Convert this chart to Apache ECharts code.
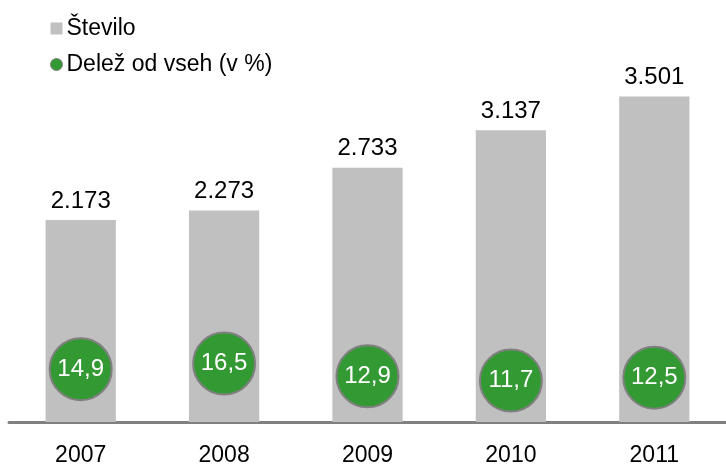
<!DOCTYPE html>
<html>
<head>
<meta charset="utf-8">
<script src="https://cdn.jsdelivr.net/npm/echarts@6/dist/echarts.min.js"></script>
<style>
  html, body { margin: 0; padding: 0; background: #fff; }
  #chart { width: 726px; height: 467px; }
</style>
</head>
<body>
<div id="chart"></div>
<script>
const years = ["2007", "2008", "2009", "2010", "2011"];
const stevilo = [2173, 2273, 2733, 3137, 3501];
const delez = [14.9, 16.5, 12.9, 11.7, 12.5];

const fmtThousands = (v) => String(v).replace(/\B(?=(\d{3})+(?!\d))/g, ".");
const fmtDecimal = (v) => v.toFixed(1).replace(".", ",");

const chart = echarts.init(document.getElementById("chart"));
chart.setOption({
    animation: false,
    textStyle: { fontFamily: "Liberation Sans, Arial, sans-serif" },
    legend: {
        orient: "vertical",
        left: 45,
        top: 12,
        itemGap: 13,
        itemWidth: 12,
        itemHeight: 12,
        textStyle: { fontSize: 23, color: "#000", padding: [0, 0, 0, -1] },
        data: [
            { name: "Število", icon: "rect", itemStyle: { color: "#c0c0c0" } },
            { name: "Delež od vseh (v %)", icon: "circle", itemStyle: { color: "#339933", borderColor: "#808080", borderWidth: 1 } }
        ]
    },
    grid: { left: 9, right: -12, top: 50, bottom: 40 },
    xAxis: {
        type: "category",
        data: years,
        axisLine: { lineStyle: { color: "#808080", width: 3 } },
        axisTick: { show: false },
        axisLabel: { fontSize: 23, color: "#000", margin: 22 }
    },
    yAxis: [
        { type: "value", min: 0, max: 4000, show: false },
        { type: "value", min: 0, max: 105, show: false }
    ],
    series: [
        {
            name: "Število",
            type: "bar",
            data: stevilo,
            barWidth: "49%",
            itemStyle: { color: "#c0c0c0" },
            label: {
                show: true,
                position: "top",
                distance: 7,
                fontSize: 24,
                color: "#000",
                formatter: (p) => fmtThousands(p.value)
            }
        },
        {
            name: "Delež od vseh (v %)",
            type: "scatter",
            yAxisIndex: 1,
            data: delez,
            symbolSize: 62,
            itemStyle: { color: "#339933", borderColor: "#808080", borderWidth: 2, opacity: 1 },
            label: {
                show: true,
                position: "inside",
                fontSize: 24,
                color: "#fff",
                formatter: (p) => fmtDecimal(p.value)
            },
            z: 5
        }
    ]
});
</script>
</body>
</html>
